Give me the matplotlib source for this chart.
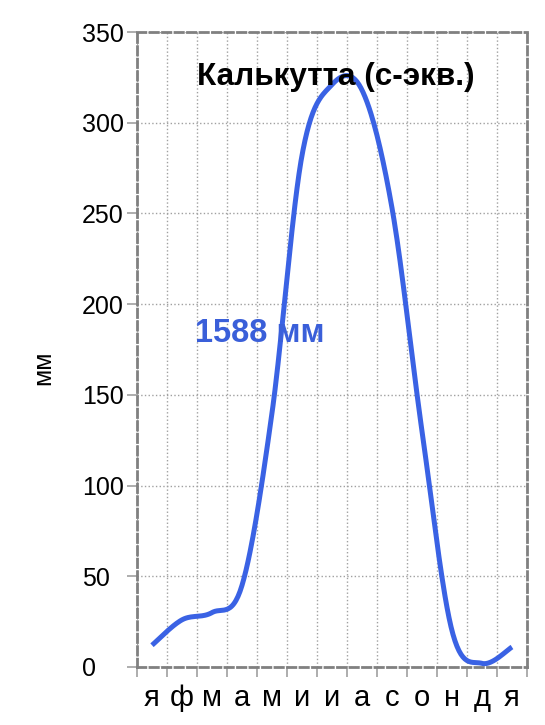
import numpy as np
import matplotlib
matplotlib.use("Agg")
import matplotlib.pyplot as plt

months = ["я", "ф", "м", "а", "м", "и", "и", "а", "с", "о", "н", "д", "я"]
precip = [12, 26, 30, 45, 140, 282, 321, 318, 253, 130, 20, 2, 11]
y_ticks = [0, 50, 100, 150, 200, 250, 300, 350]
title = "Калькутта (с-экв.)"
total_label = "1588 мм"
y_label = "мм"

plt.rcParams['font.family'] = ['Liberation Sans', 'DejaVu Sans']


def catmull_rom(x, y, n=30):
    x = np.asarray(x, float)
    y = np.asarray(y, float)
    px = np.concatenate([[x[0]], x, [x[-1]]])
    py = np.concatenate([[y[0]], y, [y[-1]]])
    xs, ys = [], []
    t = np.linspace(0, 1, n, endpoint=False)
    for i in range(1, len(px) - 2):
        p0x, p1x, p2x, p3x = px[i - 1], px[i], px[i + 1], px[i + 2]
        p0y, p1y, p2y, p3y = py[i - 1], py[i], py[i + 1], py[i + 2]
        c1x = p1x + (p2x - p0x) / 6
        c1y = p1y + (p2y - p0y) / 6
        c2x = p2x - (p3x - p1x) / 6
        c2y = p2y - (p3y - p1y) / 6
        bx = (1 - t) ** 3 * p1x + 3 * (1 - t) ** 2 * t * c1x + 3 * (1 - t) * t ** 2 * c2x + t ** 3 * p2x
        by = (1 - t) ** 3 * p1y + 3 * (1 - t) ** 2 * t * c1y + 3 * (1 - t) * t ** 2 * c2y + t ** 3 * p2y
        xs.append(bx)
        ys.append(by)
    xs.append([x[-1]])
    ys.append([y[-1]])
    return np.concatenate(xs), np.concatenate(ys)


fig = plt.figure(figsize=(5.45, 7.25), dpi=100)
ax = fig.add_axes([137 / 545, 1 - 667 / 725, 390 / 545, 635 / 725])

xpos = np.arange(len(months)) + 0.5
sx, sy = catmull_rom(xpos, precip)
ax.plot(sx, sy, color='#3a62e4', lw=3.6, solid_capstyle='butt', zorder=3, clip_on=False)

ax.set_xlim(0, len(months))
ax.set_ylim(0, 350)

ax.set_xticks(xpos)
ax.set_xticklabels(months, fontsize=21)
ax.set_xticks(np.arange(len(months) + 1), minor=True)
ax.tick_params(axis='x', which='major', length=0, pad=12)
ax.tick_params(axis='x', which='minor', length=7.2, color='#a0a0a0', width=1.2)

ax.set_yticks(y_ticks)
ax.set_yticklabels([str(v) for v in y_ticks], fontsize=18, ha='left')
ax.tick_params(axis='y', which='major', length=7.2, color='#a0a0a0', width=1.2, pad=32.4)

ax.grid(True, axis='y', which='major', color='#a0a0a0', linestyle=':', lw=1.0)
ax.grid(True, axis='x', which='minor', color='#a0a0a0', linestyle=':', lw=1.0)
ax.set_axisbelow(True)

for sp in ax.spines.values():
    sp.set_color('#808080')
    sp.set_linewidth(2.0)
    sp.set_linestyle((0, (3, 1.5)))

ax.text(0.51, 0.929, title, transform=ax.transAxes, ha='center', va='center',
        fontsize=22.7, fontweight='bold', color='black', zorder=4)
ax.text(1.93, 184, total_label, ha='left', va='center', fontsize=23.5,
        fontweight='bold', color='#3a5fd9', zorder=4)
fig.text(43 / 545, 1 - 368 / 725, y_label, rotation=90, ha='center', va='center', fontsize=18)

fig.savefig('out.png', dpi=100)
